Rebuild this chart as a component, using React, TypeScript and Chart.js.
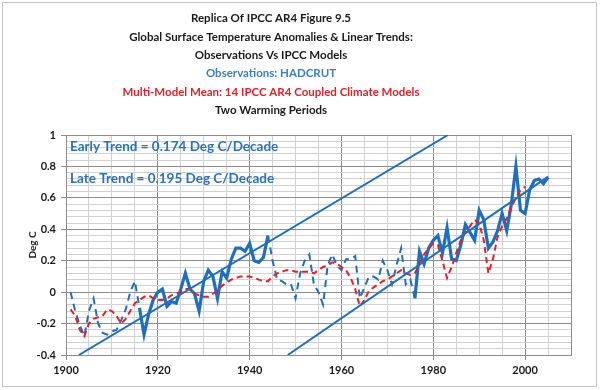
import React, { useEffect, useRef } from "react";
import { Chart, registerables } from "chart.js";

Chart.register(...registerables);

// ---------------- data ----------------
const START_YEAR = 1901;

// HADCRUT observations, 1901 .. 2005 (Deg C anomaly)
const observations = [
  0.0, -0.12, -0.21, -0.28, -0.12, -0.04, -0.2, -0.26, -0.27, -0.25,
  -0.24, -0.18, -0.11, 0.0, 0.07, -0.1, -0.27, -0.14, -0.05, 0.0,
  0.02, -0.09, -0.06, -0.07, 0.02, 0.12, 0.02, -0.01, -0.12, 0.07,
  0.14, 0.1, -0.04, 0.13, 0.09, 0.21, 0.28, 0.28, 0.26, 0.31,
  0.2, 0.19, 0.22, 0.36, 0.2, 0.08, 0.07, 0.05, 0.05, -0.04,
  0.12, 0.2, 0.24, 0.05, 0.0, -0.08, 0.17, 0.24, 0.17, 0.14,
  0.21, 0.21, 0.23, -0.04, 0.03, 0.1, 0.1, 0.08, 0.2, 0.14,
  0.05, 0.17, 0.28, 0.05, 0.08, -0.04, 0.26, 0.18, 0.28, 0.33,
  0.36, 0.25, 0.41, 0.21, 0.2, 0.3, 0.43, 0.38, 0.33, 0.52,
  0.46, 0.28, 0.32, 0.39, 0.5, 0.39, 0.56, 0.8, 0.52, 0.5,
  0.65, 0.71, 0.72, 0.69, 0.73,
];

// Multi-model mean, 1901 .. 2000
const modelMean = [
  -0.11, -0.15, -0.24, -0.28, -0.2, -0.17, -0.16, -0.15, -0.11, -0.12,
  -0.15, -0.2, -0.17, -0.12, -0.07, -0.05, -0.03, -0.02, -0.04, -0.05,
  -0.05, -0.04, -0.02, -0.01, 0.0, 0.02, 0.02, -0.01, -0.02, -0.03,
  -0.03, -0.01, 0.01, 0.04, 0.06, 0.08, 0.09, 0.1, 0.1, 0.1,
  0.09, 0.08, 0.07, 0.07, 0.1, 0.12, 0.13, 0.14, 0.14, 0.13,
  0.13, 0.13, 0.13, 0.12, 0.14, 0.16, 0.17, 0.19, 0.18, 0.16,
  0.14, 0.09, 0.02, -0.09, -0.05, 0.01, 0.03, 0.05, 0.07, 0.08,
  0.1, 0.12, 0.14, 0.12, 0.11, 0.12, 0.18, 0.24, 0.28, 0.31,
  0.3, 0.2, 0.09, 0.16, 0.25, 0.33, 0.38, 0.42, 0.46, 0.44,
  0.33, 0.12, 0.21, 0.35, 0.42, 0.47, 0.54, 0.6, 0.65, 0.67,
];

// the two warming periods drawn as a solid heavy line
const warmingPeriods = [
  [1916, 1944],
  [1976, 2005],
];

const earlyTrendYears = [1902.8, 1983.2];
const earlyTrendValues = [-0.4, 1.0];
const lateTrendYears = [1948.3, 2005];
const lateTrendValues = [-0.4, 0.735];

const xTickYears = [
  1900, 1905, 1910, 1915, 1920, 1925, 1930, 1935, 1940, 1945, 1950, 1955,
  1960, 1965, 1970, 1975, 1980, 1985, 1990, 1995, 2000, 2005, 2010,
];
const xLabelYears = [1900, 1920, 1940, 1960, 1980, 2000];

const yTickValues = [
  -0.4, -0.36, -0.32, -0.28, -0.24, -0.2, -0.16, -0.12, -0.08, -0.04, 0,
  0.04, 0.08, 0.12, 0.16, 0.2, 0.24, 0.28, 0.32, 0.36, 0.4, 0.44, 0.48, 0.52,
  0.56, 0.6, 0.64, 0.68, 0.72, 0.76, 0.8, 0.84, 0.88, 0.92, 0.96, 1.0,
];
const yLabelValues = [-0.4, -0.2, 0, 0.2, 0.4, 0.6, 0.8, 1];

const titleLines = [
  "Replica Of IPCC AR4 Figure 9.5",
  "Global Surface Temperature Anomalies & Linear Trends:",
  "Observations Vs IPCC Models",
  "Observations: HADCRUT",
  "Multi-Model Mean: 14 IPCC AR4 Coupled Climate Models",
  "Two Warming Periods",
];
const titleColors = ["#1a1a1a", "#1a1a1a", "#1a1a1a", "#3a7fc6", "#e3202a", "#1a1a1a"];

const trendNotes = ["Early Trend = 0.174 Deg C/Decade", "Late Trend = 0.195 Deg C/Decade"];
const trendNoteValues = [0.925, 0.725];
const yAxisTitle = "Deg C";

// ---------------- styling ----------------
const FONT = "Lato, 'Open Sans', 'DejaVu Sans', sans-serif";
const BLUE = "#1f6fbd";
const RED = "#e61e26";
const MAJOR_GRID = "#8c8c8c";
const MINOR_GRID = "#d2d2d2";

const inPeriod = (year: number) =>
  warmingPeriods.some(([a, b]) => year >= a && year <= b);
const strictlyInPeriod = (year: number) =>
  warmingPeriods.some(([a, b]) => year > a && year < b);
const isMajorY = (v: number) => yLabelValues.some((l) => Math.abs(l - v) < 1e-6);
const isMajorX = (v: number) => xLabelYears.includes(v) || v === 2010;

const textPlugin = {
  id: "textLayer",
  afterDraw(chart: any) {
    const { ctx, chartArea, scales } = chart;
    ctx.save();
    // outer frame
    ctx.strokeStyle = "#c4c4c4";
    ctx.lineWidth = 1;
    ctx.strokeRect(2.5, 2.5, 594, 384);

    // title block
    ctx.textAlign = "center";
    ctx.textBaseline = "middle";
    ctx.font = `bold 11.5px ${FONT}`;
    titleLines.forEach((line, i) => {
      ctx.fillStyle = titleColors[i];
      ctx.fillText(line, 271, 18.5 + i * 18.35);
    });

    // trend notes
    ctx.textAlign = "left";
    ctx.font = `bold 13.5px ${FONT}`;
    ctx.fillStyle = "#2a72bb";
    trendNotes.forEach((t, i) => {
      ctx.fillText(t, chartArea.left + 4, scales.y.getPixelForValue(trendNoteValues[i]));
    });

    // y axis title
    ctx.translate(33, (chartArea.top + chartArea.bottom) / 2);
    ctx.rotate(-Math.PI / 2);
    ctx.textAlign = "center";
    ctx.fillStyle = "#1a1a1a";
    ctx.font = `bold 10px ${FONT}`;
    ctx.fillText(yAxisTitle, 0, 0);
    ctx.restore();
  },
};

export default function App() {
  const ref = useRef<HTMLCanvasElement | null>(null);

  useEffect(() => {
    document.body.style.margin = "0";
    const canvas = ref.current;
    if (!canvas) return;

    const obsPoints = observations.map((v, i) => ({ x: START_YEAR + i, y: v }));
    const solidPoints = obsPoints.map((p) => ({ x: p.x, y: inPeriod(p.x) ? p.y : null }));
    const dashedPoints = obsPoints.map((p) => ({ x: p.x, y: strictlyInPeriod(p.x) ? null : p.y }));
    const modelPoints = modelMean.map((v, i) => ({ x: START_YEAR + i, y: v }));
    const early = earlyTrendYears.map((x, i) => ({ x, y: earlyTrendValues[i] }));
    const late = lateTrendYears.map((x, i) => ({ x, y: lateTrendValues[i] }));

    const chart = new Chart(canvas, {
      type: "line",
      data: {
        datasets: [
          {
            label: "Early trend",
            data: early,
            borderColor: BLUE,
            borderWidth: 2,
            pointRadius: 0,
          },
          {
            label: "Late trend",
            data: late,
            borderColor: BLUE,
            borderWidth: 2,
            pointRadius: 0,
          },
          {
            label: "Multi-Model Mean",
            data: modelPoints,
            borderColor: RED,
            borderWidth: 2,
            borderDash: [6, 4],
            pointRadius: 0,
          },
          {
            label: "Observations (other)",
            data: dashedPoints as any,
            borderColor: BLUE,
            borderWidth: 2,
            borderDash: [7, 5],
            pointRadius: 0,
            spanGaps: false,
          },
          {
            label: "Observations (warming)",
            data: solidPoints as any,
            borderColor: BLUE,
            borderWidth: 3.2,
            pointRadius: 0,
            spanGaps: false,
          },
        ],
      },
      options: {
        responsive: false,
        animation: false,
        events: [],
        layout: { padding: { top: 135, right: 29, left: 0, bottom: 0 } },
        plugins: {
          legend: { display: false },
          title: { display: false },
          tooltip: { enabled: false },
        },
        scales: {
          x: {
            type: "linear",
            min: 1900,
            max: 2010,
            afterBuildTicks: (scale: any) => {
              scale.ticks = xTickYears.map((v) => ({ value: v }));
            },
            afterFit: (scale: any) => {
              scale.height = 35;
            },
            ticks: {
              autoSkip: false,
              maxRotation: 0,
              padding: 4,
              color: "#1a1a1a",
              font: { family: FONT, size: 11, weight: "bold" },
              callback: (v: any) => (xLabelYears.includes(v) ? String(v) : ""),
            },
            grid: {
              color: (c: any) => (isMajorX(c.tick?.value) ? MAJOR_GRID : MINOR_GRID),
              tickColor: (c: any) =>
                xLabelYears.includes(c.tick?.value) ? MAJOR_GRID : "rgba(0,0,0,0)",
              tickLength: 5,
              lineWidth: 1,
            },
            border: { color: MAJOR_GRID, width: 1 },
          },
          y: {
            type: "linear",
            min: -0.4,
            max: 1,
            afterBuildTicks: (scale: any) => {
              scale.ticks = yTickValues.map((v) => ({ value: v }));
            },
            afterFit: (scale: any) => {
              scale.width = 66;
            },
            ticks: {
              autoSkip: false,
              padding: 5,
              color: "#1a1a1a",
              font: { family: FONT, size: 11, weight: "bold" },
              callback: (v: any) => (isMajorY(v) ? String(Number(Number(v).toFixed(2))) : ""),
            },
            grid: {
              color: (c: any) => (isMajorY(c.tick?.value) ? MAJOR_GRID : MINOR_GRID),
              tickColor: (c: any) => (isMajorY(c.tick?.value) ? MAJOR_GRID : "rgba(0,0,0,0)"),
              tickLength: 5,
              lineWidth: 1,
            },
            border: { color: MAJOR_GRID, width: 1 },
          },
        },
      },
      plugins: [textPlugin],
    });

    return () => chart.destroy();
  }, []);

  return (
    <div style={{ position: "absolute", left: 0, top: 0, width: 600, height: 390, background: "#fff" }}>
      <canvas ref={ref} width={600} height={390} style={{ display: "block" }} />
    </div>
  );
}
